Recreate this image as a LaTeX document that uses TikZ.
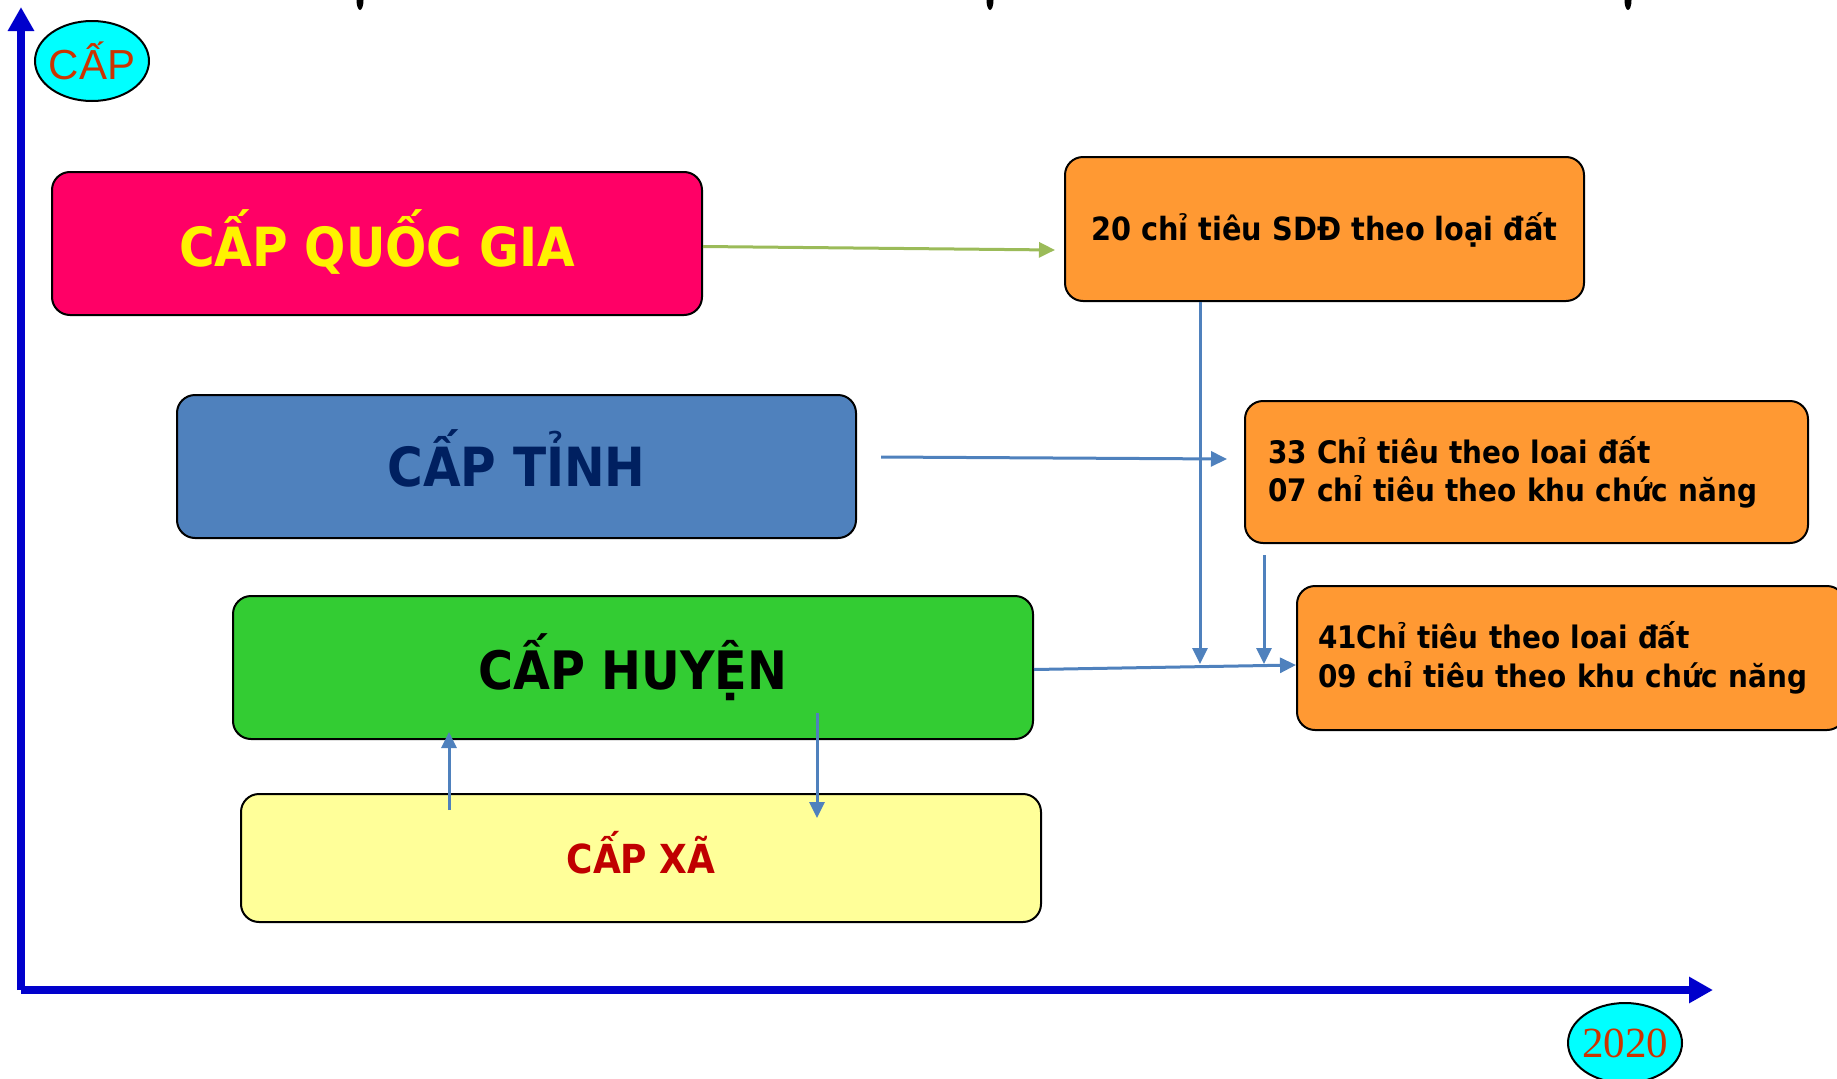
\documentclass[tikz,border=0pt]{standalone}
\usepackage{fontspec}
\setmainfont{DejaVu Sans Condensed}
\newfontfamily\arialfont{Liberation Sans}
\newfontfamily\timesfont{Liberation Serif}
\usetikzlibrary{arrows.meta, shapes.geometric, positioning}

\definecolor{quocpink}{HTML}{FF0066}
\definecolor{tinhblue}{HTML}{4F81BD}
\definecolor{tinhtext}{HTML}{002060}
\definecolor{huyengreen}{HTML}{33CC33}
\definecolor{xayellow}{HTML}{FFFF99}
\definecolor{xared}{HTML}{C00000}
\definecolor{boxorange}{HTML}{FF9933}
\definecolor{axisblue}{HTML}{0000CC}
\definecolor{tagcyan}{HTML}{00FFFF}
\definecolor{tagred}{HTML}{CC3300}
\definecolor{linkgreen}{HTML}{9BBB59}

\begin{document}
\begin{tikzpicture}[x=1pt, y=-1pt,
    tierbox/.style={draw=black, line width=2pt, rounded corners=18pt,
        minimum height=143pt, inner sep=0pt, text depth=0pt, font=\bfseries},
    notebox/.style={tierbox, fill=boxorange, minimum height=144pt},
    link/.style={draw=tinhblue, line width=3pt,
        -{Triangle[length=16pt,width=15pt]}},
    axis/.style={draw=axisblue, line width=7.5pt,
        -{Triangle[length=24pt,width=25pt]}},
    tag/.style={ellipse, draw=black, line width=2pt, fill=tagcyan,
        text=tagred, minimum width=114pt, minimum height=80pt, inner ysep=0pt}]
    \useasboundingbox (0,0) rectangle (1837,1079);

    % Cut-off marks on the top edge
    \foreach \mx in {360, 990, 1628}
        \fill[black] (\mx,0) ellipse [x radius=3.5, y radius=10];

    % Axes
    \coordinate (origin) at (21,990);
    \draw[axis] (origin) -- (21,7);
    \draw[axis] (origin) -- (1713,990);
    \node[tag, inner xsep=-3pt, font=\arialfont\fontsize{42}{48}\selectfont] (capTag) at (92,61) {CẤP};
    \node[tag, inner xsep=-6pt, font=\timesfont\fontsize{43}{48}\selectfont] (yearTag) at (1625,1043) {2020};

    % Add the levels
    \node[tierbox,
          minimum width=650pt,
          fill=quocpink,
          text=yellow,
          text height=45pt,
          font=\bfseries\fontsize{54}{60}\selectfont] (quocgia) at (377,243.5) {CẤP QUỐC GIA};
    \node[tierbox,
          minimum width=679pt,
          fill=tinhblue,
          text=tinhtext,
          text height=40pt,
          font=\bfseries\fontsize{54}{60}\selectfont] (tinh) at (516.5,466.5) {CẤP TỈNH};
    \node[tierbox,
          minimum width=800pt,
          fill=huyengreen,
          text=black,
          text height=43pt,
          font=\bfseries\fontsize{53}{60}\selectfont] (huyen) at (633,667.5) {CẤP HUYỆN};
    \node[tierbox,
          minimum width=800pt,
          minimum height=128pt,
          fill=xayellow,
          text=xared,
          text height=31pt,
          font=\bfseries\fontsize{40}{48}\selectfont] (xa) at (641,858) {CẤP XÃ};

    % Add the targets
    \node[notebox,
          minimum width=519pt,
          text height=23.3pt,
          font=\bfseries\fontsize{32}{40}\selectfont] (chitieu20) at (1324.5,229) {20 chỉ tiêu SDĐ theo loại đất};
    \node[notebox,
          minimum height=142pt,
          text width=517pt,
          inner xsep=23pt,
          text depth=,
          align=left,
          font=\bfseries\fontsize{31}{38}\selectfont] (chitieu33) at (1526.5,472)
          {33 Chỉ tiêu theo loai đất\\07 chỉ tiêu theo khu chức năng};
    \node[notebox,
          text width=506pt,
          inner xsep=21pt,
          text depth=,
          align=left,
          font=\bfseries\fontsize{31}{39}\selectfont] (chitieu41) at (1571,658)
          {41Chỉ tiêu theo loai đất\\09 chỉ tiêu theo khu chức năng};

    % Connectors
    \coordinate (quocEnd) at (1055,250);
    \coordinate (tinhStart) at (881,457);
    \coordinate (tinhEnd) at (1227,459);
    \coordinate (dropA) at (1200,664);
    \coordinate (dropB) at (1264,664);
    \coordinate (dropBStart) at (1264,555);
    \coordinate (huyenEnd) at (1296,665);
    \coordinate (upStart) at (449,810);
    \coordinate (upEnd) at (449,732);
    \coordinate (downStart) at (817,713);
    \coordinate (downEnd) at (817,818);

    \draw[link, draw=linkgreen] ([yshift=-3pt]quocgia.east) -- (quocEnd);
    \draw[link] (tinhStart) -- (tinhEnd);
    \draw[link] (dropA |- chitieu20.south) -- (dropA);
    \draw[link] (dropBStart) -- (dropB);
    \draw[link] ([yshift=-2pt]huyen.east) -- (huyenEnd);
    \draw[link] (upStart) -- (upEnd);
    \draw[link] (downStart) -- (downEnd);
\end{tikzpicture}
\end{document}
